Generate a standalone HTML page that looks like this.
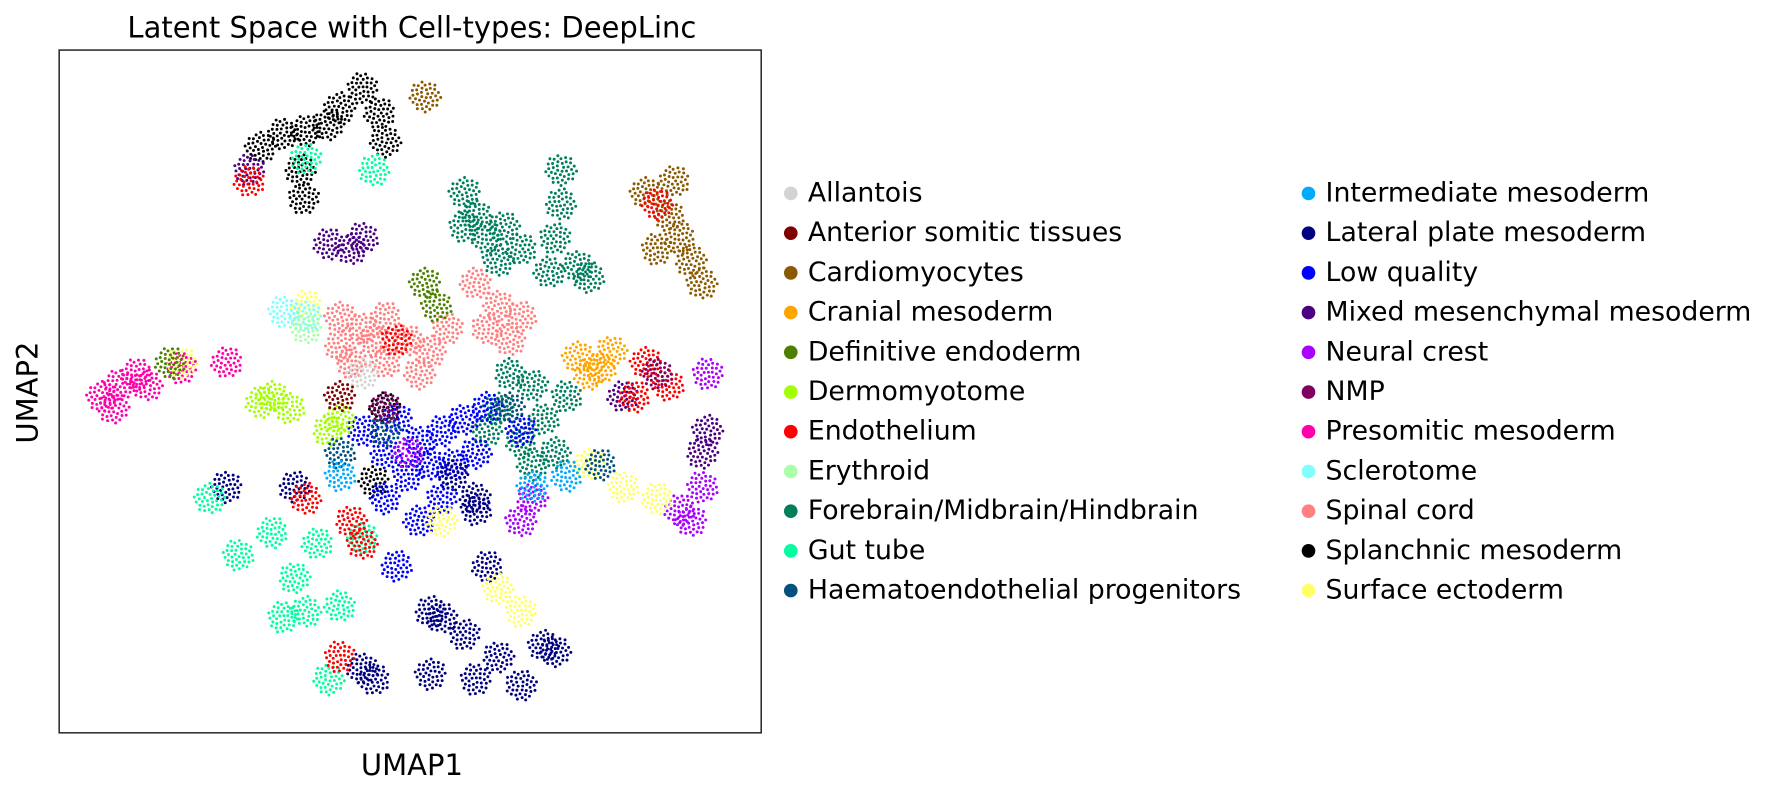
<!DOCTYPE html>
<html><head><meta charset="utf-8"><style>
html,body{margin:0;padding:0;background:#fff;}
svg{display:block;font-family:"DejaVu Sans","Liberation Sans",sans-serif;}
</style></head><body>
<svg id="chart" width="1775" height="792" viewBox="0 0 1560 696" preserveAspectRatio="none" xmlns="http://www.w3.org/2000/svg">
<rect x="0" y="0" width="1560" height="696" fill="#fff"/>
<text x="362" y="33" text-anchor="middle" font-size="25.5" fill="#000">Latent Space with Cell-types: DeepLinc</text>
<text x="362" y="681" text-anchor="middle" font-size="25.5" fill="#000">UMAP1</text>
<text x="0" y="0" transform="translate(33,345) rotate(-90)" text-anchor="middle" font-size="25.5" fill="#000">UMAP2</text>
<g id="points"></g>
<rect x="52" y="44" width="617" height="600" fill="none" stroke="#222" stroke-width="1.3"/>
<g id="legend"></g>
</svg>
<script>
const categories = ["Allantois","Anterior somitic tissues","Cardiomyocytes","Cranial mesoderm","Definitive endoderm","Dermomyotome","Endothelium","Erythroid","Forebrain/Midbrain/Hindbrain","Gut tube","Haematoendothelial progenitors","Intermediate mesoderm","Lateral plate mesoderm","Low quality","Mixed mesenchymal mesoderm","Neural crest","NMP","Presomitic mesoderm","Sclerotome","Spinal cord","Splanchnic mesoderm","Surface ectoderm"];
const colors = ["#d3d3d3","#800000","#8b5a00","#ffa500","#4d8000","#a3ff00","#ff0000","#aaffaa","#007f5f","#00ff9f","#005080","#00aaff","#000080","#0000ff","#4b0082","#aa00ff","#800060","#ff00aa","#80ffff","#ff8080","#000000","#ffff66"];
// UMAP coordinates (arbitrary units) of cluster anchors per cell type
const allantoisX=[26.8], allantoisY=[31.7];
const anteriorX=[24.8], anteriorY=[29.7];
const cardioX=[51.8,53.8,54.8,55.8,56.8,52.8,54.3,32.3], cardioY=[47.7,45.7,43.7,41.7,39.7,42.7,48.7,56.2];
const cranialX=[45.8,47.8,46.8,48.8], cranialY=[33.2,32.2,31.7,33.7];
const defEndoX=[32.3,33.3,9.8], defEndoY=[39.7,37.7,32.7];
const dermoX=[18.8,20.3,17.8,23.8,24.8], dermoY=[29.7,28.7,29.2,26.7,27.7];
const endoX=[51.8,53.8,50.8,25.8,26.8,24.8,16.8,52.8,21.8,29.8], endoY=[32.7,30.7,29.7,18.7,16.7,6.7,48.7,46.7,20.7,34.7];
const erythX=[21.8], erythY=[35.7];
const brainX=[35.8,36.8,37.8,39.3,38.8,35.8,40.8,44.3,44.3,43.8,43.3,45.8,46.8,41.8,39.8,38.8,42.8,40.8,43.8,37.8,44.8,41.8];
const brainY=[47.7,45.7,43.7,44.7,41.7,44.7,42.7,49.7,46.7,43.7,40.7,41.2,40.2,30.7,31.7,28.7,27.7,25.7,24.7,26.7,29.7,23.7];
const gutX=[13.3,15.8,18.8,20.8,21.8,19.8,22.8,23.8,27.8,21.8,24.8,26.8], gutY=[20.7,15.7,17.7,13.7,10.7,10.2,16.7,4.7,49.7,50.7,11.2,17.2];
const haemX=[39.8,24.8,47.8,28.8], haemY=[28.7,24.7,23.7,26.7];
const interX=[41.8,24.8,44.8], interY=[21.7,22.7,22.7];
const lateralX=[34.8,36.8,37.8,38.8,42.8,36.8,27.8,43.8,32.8,35.8,36.8,14.8,20.8,40.8,33.8,32.8,26.8];
const lateralY=[22.7,19.7,14.7,6.7,7.7,4.7,4.7,7.2,10.7,8.7,20.7,21.7,21.7,4.2,10.2,5.2,5.7];
const lowX=[29.8,31.8,33.8,35.8,32.8,30.8,34.8,36.8,28.8,33.8,31.8,28.8,29.8,26.8,37.8,40.8];
const lowY=[27.7,25.7,26.7,27.7,23.7,22.7,23.7,24.7,24.7,20.7,18.7,20.7,14.7,26.7,28.7,26.7];
const mixedX=[25.8,26.8,23.8,56.8,57.3,16.8,49.8], mixedY=[42.7,43.7,43.2,24.7,26.7,49.7,29.7];
const crestX=[55.8,56.8,54.8,41.8,40.8,57.3,30.8], crestY=[18.7,21.7,19.7,20.7,18.7,31.7,24.7];
const nmpX=[28.8,52.8], nmpY=[28.7,31.7];
const psmX=[3.8,5.3,6.8,4.8,7.8,10.8,14.8], psmY=[29.7,30.7,31.7,28.7,30.7,32.2,32.7];
const scleroX=[21.8,19.8], scleroY=[36.7,37.2];
const spinalX=[24.8,26.8,28.8,30.8,32.8,25.8,28.8,31.8,24.8,34.3,36.8,38.8,40.8,37.8,39.8,27.8];
const spinalY=[36.7,35.7,36.7,34.7,33.7,32.7,32.7,31.7,34.2,35.7,39.7,37.7,36.7,35.7,34.7,34.7];
const splanchX=[17.8,19.8,21.8,23.8,24.8,26.8,28.3,28.8,21.3,21.6,28.8,27.8], splanchY=[51.7,52.9,53.2,53.7,55.2,56.9,54.7,52.2,49.7,47.2,28.7,22.2];
const surfX=[46.8,49.8,52.8,33.8,38.8,40.8,21.8,10.8], surfY=[23.7,21.7,20.7,18.7,12.7,10.7,37.7,32.7];
const seriesX=[allantoisX,anteriorX,cardioX,cranialX,defEndoX,dermoX,endoX,erythX,brainX,gutX,haemX,interX,lateralX,lowX,mixedX,crestX,nmpX,psmX,scleroX,spinalX,splanchX,surfX];
const seriesY=[allantoisY,anteriorY,cardioY,cranialY,defEndoY,dermoY,endoY,erythY,brainY,gutY,haemY,interY,lateralY,lowY,mixedY,crestY,nmpY,psmY,scleroY,spinalY,splanchY,surfY];

const NS="http://www.w3.org/2000/svg";
const X0=52, Y0=644, SC=9.95;
function xScale(v){return X0+v*SC;}
function yScale(v){return Y0-v*SC;}
const g=document.getElementById('points');
const drawOrder=[20,8,19,13,12,9,2,3,5,17,14,15,6,21,4,10,11,16,18,7,0,1];
const N=40, R=14;
drawOrder.forEach(ci=>{
  const xs=seriesX[ci], ys=seriesY[ci];
  for(let i=0;i<xs.length;i++){
    const cx=xScale(xs[i]), cy=yScale(ys[i]);
    const grp=document.createElementNS(NS,'g');
    
    
    grp.setAttribute('fill',colors[ci]);
    for(let k=0;k<N;k++){
      const r=R*Math.sqrt((k+0.5)/N), th=k*2.39996+i;
      const c=document.createElementNS(NS,'circle');
      c.setAttribute('cx',(cx+r*Math.cos(th)).toFixed(1));
      c.setAttribute('cy',(cy+r*Math.sin(th)).toFixed(1));
      c.setAttribute('r','1.3');
      grp.appendChild(c);
    }
    g.appendChild(grp);
  }
});
const lg=document.getElementById('legend');
categories.forEach((name,i)=>{
  const col=i<11?0:1, row=i%11;
  const x=col?1153:698, y=169+row*34.9;
  const e=document.createElementNS(NS,'g');
  
  
  const c=document.createElementNS(NS,'circle');
  c.setAttribute('cx',x-3);c.setAttribute('cy',y+1);c.setAttribute('r','6');c.setAttribute('fill',colors[i]);
  const t=document.createElementNS(NS,'text');
  t.setAttribute('x',x+12);t.setAttribute('y',y+8);t.setAttribute('font-size','23.5');t.setAttribute('fill','#000');
  t.textContent=name;
  e.appendChild(c);e.appendChild(t);lg.appendChild(e);
});
</script>
</body></html>
